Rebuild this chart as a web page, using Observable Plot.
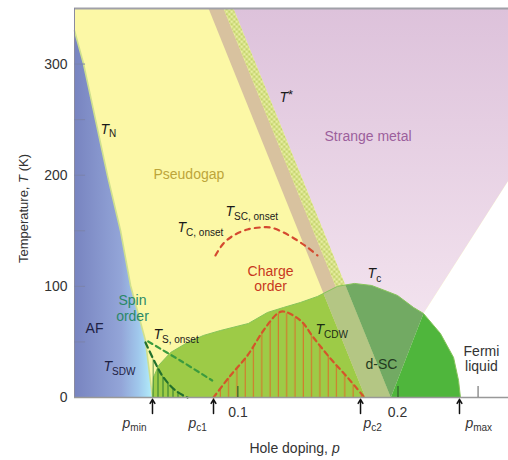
<!DOCTYPE html>
<html><head><meta charset="utf-8">
<script src="https://cdn.jsdelivr.net/npm/d3@7"></script>
<script src="https://cdn.jsdelivr.net/npm/@observablehq/plot@0.6"></script>
<style>body{margin:0;background:#fff;}</style>
</head><body><div id="chart"></div>
<script>
// ---- data (hole doping p, temperature T in K) ----
const tN = [[-0.002,330],[0.0036,300.5],[0.0186,199.7],[0.0267,150.3],[0.033,100.8],[0.0423,51.3],[0.0467,0]];
const tcDome = [[0.0467,0],[0.0473,18],[0.0505,28.8],[0.058,40.5],[0.0686,49.5],[0.0785,55.8],[0.0892,60.3],[0.1066,66.6],[0.1185,76.5],[0.1285,81],[0.1391,85.5],[0.1497,90.9],[0.1622,100],[0.1728,102.6],[0.1835,100.8],[0.1934,95.4],[0.1997,91.8],[0.2097,81],[0.2159,75.6],[0.2265,57.6],[0.2347,36],[0.2378,15.3],[0.239,0]];
const tCDW = [[0.0848,0],[0.0954,19.8],[0.106,37.8],[0.116,60.3],[0.1248,75.6],[0.1285,77.4],[0.1391,69.3],[0.1472,54],[0.1578,35.1],[0.1685,18],[0.1791,0]];
const tCOnset = [[0.086,127.8],[0.091,138.6],[0.0973,145.8],[0.106,151.2],[0.1141,153],[0.1204,153],[0.1285,148.5],[0.1372,141.3],[0.1435,135],[0.1497,127.8]];
const tSDW = [[0.0423,49.5],[0.0486,30.6],[0.0536,18],[0.0611,6.3],[0.0686,0]];
const tSOnset = [[0.044,50.4],[0.064,33.3],[0.084,15.3]];
const tStarLeft = [[0.1797,0],[0.0817,350]];
const tStarMid = [[0.1891,0],[0.0911,350]];
const tStarRight = [[0.1955,0],[0.0972,350]];
const fermiLine = [[0.1955,0],[0.2159,75.6],[0.269,195.3]];
const arrowP = [0.0467,0.0848,0.1766,0.2384];
const yMinorTicks = [50,100,150,200,250,300];
const yTickLabels = [0,100,200,300];
const xTicks = [0.1,0.2,0.25];
const xTickLabels = [{p:0.1001,t:"0.1"},{p:0.1997,t:"0.2"}];
const pLabels = [{p:0.028,t:"~p~_{min}"},{p:0.0692,t:"~p~_{c1}"},{p:0.1785,t:"~p~_{c2}"},{p:0.2421,t:"~p~_{max}"}];
const labels = [
  {t:"~T~_{N}", p:0.0142, T:237.5},
  {t:"Pseudogap", p:0.0473, T:197, c:"#bca53a"},
  {t:"~T~^{*}", p:0.126, T:266.3},
  {t:"Strange metal", p:0.1541, T:231.2, c:"#9c5f9c"},
  {t:"~T~_{SC, onset}", p:0.0923, T:162.9},
  {t:"~T~_{C, onset}", p:0.0623, T:148.5},
  {t:"Charge", p:0.1204, T:108.9, c:"#c8381e", a:"middle"},
  {t:"order", p:0.1204, T:95.4, c:"#c8381e", a:"middle"},
  {t:"~T~_{c}", p:0.181, T:107.1},
  {t:"~T~_{CDW}", p:0.1485, T:56.7, c:"#1c2c14"},
  {t:"d-SC", p:0.1797, T:25.2, c:"#233a20"},
  {t:"Fermi", p:0.2521, T:36.9, c:"#333", a:"middle"},
  {t:"liquid", p:0.2521, T:23.4, c:"#333", a:"middle"},
  {t:"Spin", p:0.0342, T:82.8, c:"#2a8868", a:"middle"},
  {t:"order", p:0.0342, T:68.4, c:"#2a8868", a:"middle"},
  {t:"AF", p:0.0049, T:57.6, c:"#1e2244"},
  {t:"~T~_{S, onset}", p:0.0473, T:52.2},
  {t:"~T~_{SDW}", p:0.0161, T:23.4, c:"#1e2244"}
];

// ---- geometry helpers ----
const lineF = (L) => ([p, T]) => p - (L[0][0] + (L[1][0] - L[0][0]) * (T - L[0][1]) / (L[1][1] - L[0][1]));
function clip(poly, f, keep) {
  const out = [];
  for (let i = 0; i < poly.length; i++) {
    const a = poly[i], b = poly[(i + 1) % poly.length];
    const fa = keep * f(a), fb = keep * f(b);
    if (fa >= 0) out.push(a);
    if ((fa >= 0) !== (fb >= 0)) {
      const t = fa / (fa - fb);
      out.push([a[0] + t * (b[0] - a[0]), a[1] + t * (b[1] - a[1])]);
    }
  }
  return out;
}
const fBL = lineF(tStarLeft), fBR = lineF(tStarRight), fFL = lineF(fermiLine.slice(0, 2));
const domeA = clip(tcDome, fBL, -1);
const domeB = clip(clip(tcDome, fBL, 1), fBR, -1);
const domeC = clip(clip(tcDome, fBR, 1), fFL, -1);
const domeD = clip(tcDome, fFL, 1);
const pMin = tcDome[0][0];
const spinHatch = clip([...tSDW, [tSDW[0][0], 0]], ([p]) => p - pMin, 1);

const pMaxX = 0.269, tTop = 350, pLeft = -0.002;
const fanPoly = [tStarRight[0], tStarRight[1], [pMaxX, tTop], ...fermiLine.slice().reverse()];
const whitePoly = [...fermiLine, [pMaxX, 0]];
const afPoly = [...tN, [pLeft, 0]];
const bandTan = [tStarLeft[0], tStarLeft[1], tStarMid[1], tStarMid[0]];
const bandStripe = [tStarMid[0], tStarMid[1], tStarRight[1], tStarRight[0]];

const X = d => d[0], Y = d => d[1];
const poly = (data, fill, extra = {}) => Plot.line(data, {x: X, y: Y, fill, stroke: "none", curve: "linear", ...extra});

const defs = () => {
  const g = document.createElementNS("http://www.w3.org/2000/svg", "g");
  g.innerHTML = `<defs>
   <linearGradient id="gAF" x1="0" y1="0" x2="1" y2="0">
     <stop offset="0" stop-color="#7884c0"/><stop offset="0.6" stop-color="#93a5d8"/>
     <stop offset="0.82" stop-color="#a0c8ec"/><stop offset="1" stop-color="#b2eefa"/></linearGradient>
   <linearGradient id="gPink" x1="0" y1="0" x2="0" y2="1">
     <stop offset="0" stop-color="#ddc2db"/><stop offset="1" stop-color="#f8ebf3"/></linearGradient>
   <pattern id="hCDW" patternUnits="userSpaceOnUse" width="8.3" height="10">
     <line x1="4" y1="0" x2="4" y2="10" stroke="#d5752a" stroke-width="1.1"/></pattern>
   <pattern id="hSpin" patternUnits="userSpaceOnUse" width="5" height="10">
     <line x1="2.5" y1="0" x2="2.5" y2="10" stroke="#2d7a2e" stroke-width="1"/></pattern>
   <pattern id="hStar" patternUnits="userSpaceOnUse" width="5" height="5">
     <rect width="5" height="5" fill="#c4d36c"/><rect width="2.5" height="2.5" fill="#e9efa4"/>
     <rect x="2.5" y="2.5" width="2.5" height="2.5" fill="#e9efa4"/></pattern>
  </defs>`;
  return g;
};

const font = "'Liberation Sans', Arial, sans-serif";
const txt = (l) => Plot.text([l], {x: "p", y: "T", text: "t", fill: l.c || "#1a1a1a", textAnchor: l.a || "start", lineAnchor: "bottom", fontSize: 14});

const chart = Plot.plot({
  width: 508, height: 460,
  marginLeft: 74, marginRight: 0, marginTop: 8, marginBottom: 63,
  x: {domain: [pLeft, pMaxX], axis: null},
  y: {domain: [0, tTop], axis: null},
  style: {fontFamily: font, fontSize: "14px", background: "white", overflow: "visible"},
  marks: [
    defs,
    Plot.frame({fill: "#fcf8a6", stroke: "none"}),
    poly(fanPoly, "url(#gPink)"),
    poly(whitePoly, "white"),
    poly(afPoly, "url(#gAF)"),
    poly(bandTan, "#d8c29f"),
    poly(bandStripe, "url(#hStar)"),
    Plot.line(tN, {x: X, y: Y, stroke: "#cfe08e", strokeWidth: 1.6}),
    poly(domeA, "#9dcb47"),
    poly(domeB, "#b4c684"),
    poly(domeC, "#72aa63"),
    poly(domeD, "#4fb63c"),
    Plot.line(tcDome, {x: X, y: Y, stroke: "#86c45a", strokeWidth: 1}),
    poly(tCDW, "url(#hCDW)"),
    poly(spinHatch, "url(#hSpin)"),
    Plot.line(tCDW, {x: X, y: Y, stroke: "#d4552a", strokeWidth: 2.2, strokeDasharray: "5,4", curve: "catmull-rom"}),
    Plot.line(tCOnset, {x: X, y: Y, stroke: "#d44a30", strokeWidth: 2.2, strokeDasharray: "5,5", curve: "catmull-rom"}),
    Plot.line(tSOnset, {x: X, y: Y, stroke: "#3b9b3e", strokeWidth: 2.2, strokeDasharray: "5,4", curve: "catmull-rom"}),
    Plot.line(tSDW, {x: X, y: Y, stroke: "#23702c", strokeWidth: 2.2, strokeDasharray: "6,4", curve: "catmull-rom"}),
    Plot.ruleY([tTop], {stroke: "#a0a0a8", strokeWidth: 2}),
    Plot.ruleX([pLeft], {stroke: "#8a8aa0", strokeWidth: 1}),
    Plot.ruleY([0], {stroke: "#999", strokeWidth: 1.5}),
    Plot.ruleY(yMinorTicks, {y: d => d, x1: pLeft, x2: pLeft + 0.0069, stroke: "#7b83aa", strokeWidth: 1}),
    Plot.ruleX(xTicks.slice(0, 2), {x: d => d, y1: 0, y2: 10, stroke: "#2f5f2a", strokeWidth: 1.2}),
    Plot.ruleX(xTicks.slice(2), {x: d => d, y1: 0, y2: 10, stroke: "#777", strokeWidth: 1.2}),
    Plot.text(yTickLabels, {x: pLeft, y: d => d, text: d => String(d), dx: -7, textAnchor: "end", fill: "#333", fontSize: 14}),
    Plot.text(xTickLabels, {x: "p", y: -17.1, text: "t", textAnchor: "middle", lineAnchor: "bottom", fill: "#333", fontSize: 14}),
    Plot.arrow(arrowP, {x1: d => d, x2: d => d, y1: -14.4, y2: -1.6, stroke: "#111", strokeWidth: 1.5, headLength: 7}),
    Plot.text(pLabels, {x: "p", y: -27, text: "t", textAnchor: "start", lineAnchor: "bottom", fill: "#333", fontSize: 14}),
    Plot.text(["Hole doping, ~p~"], {x: 0.1354, y: -49.5, text: d => d, textAnchor: "middle", lineAnchor: "bottom", fill: "#333", fontSize: 14}),
    Plot.text(["Temperature, ~T~ (K)"], {x: -0.0313, y: 170, text: d => d, rotate: -90, textAnchor: "middle", lineAnchor: "bottom", fill: "#333", fontSize: 13}),
    ...labels.map(txt)
  ]
});

// rich text: ~italic~, _{sub}, ^{sup}
const NS = "http://www.w3.org/2000/svg";
chart.querySelectorAll("text").forEach(el => {
  const s = el.textContent;
  if (!/[~_^]/.test(s)) return;
  const re = /~([^~]*)~|_\{([^}]*)\}|\^\{([^}]*)\}|([^~_^]+)/g;
  el.textContent = "";
  let shift = 0, m;
  while ((m = re.exec(s))) {
    const ts = document.createElementNS(NS, "tspan");
    let target = 0;
    if (m[1] !== undefined) { ts.textContent = m[1]; ts.setAttribute("font-style", "italic"); }
    else if (m[2] !== undefined) { ts.textContent = m[2]; ts.setAttribute("font-size", "10"); target = 3.5; }
    else if (m[3] !== undefined) { ts.textContent = m[3]; ts.setAttribute("font-size", "13"); target = -3; }
    else ts.textContent = m[4];
    if (target !== shift) { ts.setAttribute("dy", String(target - shift)); shift = target; }
    el.appendChild(ts);
  }
});
document.getElementById("chart").appendChild(chart);
</script>
</body></html>
